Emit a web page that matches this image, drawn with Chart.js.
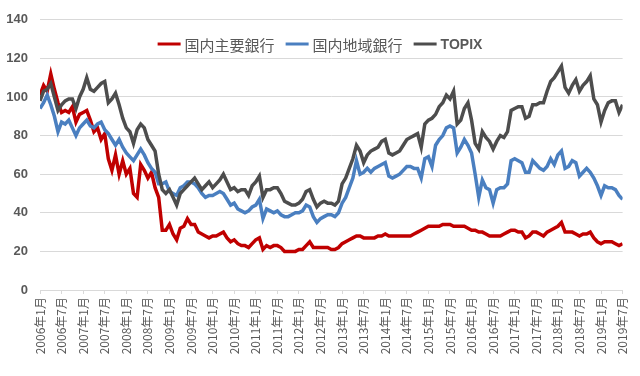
<!DOCTYPE html>
<html><head><meta charset="utf-8">
<script src="https://cdn.jsdelivr.net/npm/chart.js@4.4.1/dist/chart.umd.min.js"></script>
<style>html,body{margin:0;padding:0;background:#fff}#wrap{width:640px;height:376px}</style>
</head><body><div id="wrap"><canvas id="c" width="640" height="376"></canvas></div>
<script>
// Monthly observations, 2006年1月 .. 2019年7月 (163 months)
const seriesNames = ['国内主要銀行', '国内地域銀行', 'TOPIX'];
const tickLabels = ['2006年1月','2006年7月','2007年1月','2007年7月','2008年1月','2008年7月','2009年1月','2009年7月','2010年1月','2010年7月','2011年1月','2011年7月','2012年1月','2012年7月','2013年1月','2013年7月','2014年1月','2014年7月','2015年1月','2015年7月','2016年1月','2016年7月','2017年1月','2017年7月','2018年1月','2018年7月','2019年1月','2019年7月'];
const majorBanks = [
101,106,103,112,104,97,92,93,92,95,87,91,
92,93,88,82,84,78,81,68,62,70,60,67,
60,63,50,48,65,62,58,61,53,48,31,31,
34,29,26,32,33,37,34,34,30,29,28,27,
28,28,29,30,27,25,26,24,23,23,22,24,
26,27,21,23,22,23,23,22,20,20,20,20,
21,21,23,25,22,22,22,22,22,21,21,22,
24,25,26,27,28,28,27,27,27,27,28,28,
29,28,28,28,28,28,28,28,29,30,31,32,
33,33,33,33,34,34,34,33,33,33,33,32,
31,31,30,30,29,28,28,28,28,29,30,31,
31,30,30,27,28,30,30,29,28,30,31,32,
33,35,30,30,30,29,28,29,29,30,27,25,
24,25,25,25,24,23,24];
const regionalBanks = [
94,97,101,96,90,82,87,86,88,84,80,84,
86,88,85,84,86,87,83,81,78,75,78,74,
71,69,67,70,73,70,66,63,61,55,55,56,
51,50,49,53,54,56,56,55,53,50,48,49,
49,50,51,50,47,44,45,42,41,40,41,43,
44,47,37,42,41,40,41,39,38,38,39,40,
40,41,44,43,38,35,37,38,39,39,38,40,
45,48,53,58,67,60,61,63,61,63,64,65,
66,59,58,59,60,62,64,64,63,63,58,68,
69,64,75,78,80,84,85,84,71,74,78,75,
71,60,48,57,53,52,45,52,53,53,55,67,
68,67,66,61,61,67,65,63,62,64,68,65,
70,72,63,64,67,66,59,61,63,61,58,54,
49,54,53,53,52,49,47];
const topix = [
98,103,104,107,100,93,96,98,99,99,94,100,
104,110,104,103,105,107,108,97,99,102,96,89,
84,82,76,83,86,84,78,75,72,60,52,50,
52,48,44,50,52,54,56,58,55,52,54,56,
53,55,57,60,56,52,53,51,52,52,49,54,
56,59,48,52,52,53,53,50,46,45,44,44,
45,47,51,52,47,43,45,46,45,45,44,46,
55,58,63,68,75,72,66,70,72,73,74,77,
78,71,70,71,72,75,78,79,80,81,74,86,
88,89,91,95,97,101,99,103,86,88,94,97,
88,76,73,82,79,77,73,77,80,79,82,93,
94,95,95,89,90,96,96,97,97,103,108,110,
113,116,105,102,106,109,103,106,108,111,99,96,
87,93,97,98,98,92,96];

const colors = ['#c00000', '#4a7fc0', '#4d4d4d'];
const allSeries = [majorBanks, regionalBanks, topix];

const toPoints = arr => arr.map((v, i) => ({x: i, y: v}));

const legendPlugin = {
  id: 'inlineLegend',
  afterDraw(chart) {
    const ctx = chart.ctx;
    ctx.save();
    ctx.textBaseline = 'middle';
    const fontFor = t => /^[A-Za-z]+$/.test(t) ? 'bold 14px "Liberation Sans", Arial, sans-serif' : '15px "Noto Sans CJK JP", sans-serif';
    const lineW = 23, gap = 4, spacing = 11;
    const ds = chart.data.datasets;
    const widths = ds.map(d => { ctx.font = fontFor(d.label); return lineW + gap + ctx.measureText(d.label).width; });
    const total = widths.reduce((a, b) => a + b, 0) + spacing * (ds.length - 1);
    let x = chart.width / 2 - total / 2;
    const y = 44;
    ds.forEach((d, i) => {
      ctx.strokeStyle = d.borderColor;
      ctx.lineWidth = 3;
      ctx.beginPath();
      ctx.moveTo(x, y);
      ctx.lineTo(x + lineW, y);
      ctx.stroke();
      ctx.font = fontFor(d.label);
      ctx.fillStyle = '#595959';
      ctx.fillText(d.label, x + lineW + gap, y + 1);
      x += widths[i] + spacing;
    });
    ctx.restore();
  }
};

new Chart(document.getElementById('c'), {
  type: 'line',
  data: {
    datasets: seriesNames.map((name, i) => ({
      label: name,
      data: toPoints(allSeries[i]),
      borderColor: colors[i],
      backgroundColor: colors[i],
      borderWidth: 3.5,
      pointRadius: 0,
      tension: 0,
      order: 3 - i
    }))
  },
  options: {
    responsive: false,
    animation: false,
    layout: {padding: {top: 15, right: 13, left: 0, bottom: 0}},
    plugins: {legend: {display: false}, tooltip: {enabled: false}},
    scales: {
      x: {
        type: 'linear',
        min: 0,
        max: 162,
        afterBuildTicks: s => { s.ticks = tickLabels.map((_, i) => ({value: i * 6})); },
        afterFit: s => { s.height = 86; },
        ticks: {
          autoSkip: false,
          minRotation: 90,
          maxRotation: 90,
          padding: 3,
          color: '#595959',
          font: {size: 12, family: '"Noto Sans CJK JP", sans-serif'},
          callback: v => tickLabels[Math.round(v / 6)]
        },
        grid: {drawOnChartArea: false, drawTicks: true, tickLength: 4, color: '#d9d9d9'},
        border: {color: '#d9d9d9'}
      },
      y: {
        min: 0,
        max: 140,
        afterFit: s => { s.width = 40; },
        ticks: {
          stepSize: 20,
          padding: 12,
          color: '#595959',
          font: {size: 13, weight: 'bold', family: '"Liberation Sans", Arial, sans-serif'}
        },
        grid: {color: '#d9d9d9', drawTicks: false},
        border: {display: false}
      }
    }
  },
  plugins: [legendPlugin]
});
</script>
</body></html>
